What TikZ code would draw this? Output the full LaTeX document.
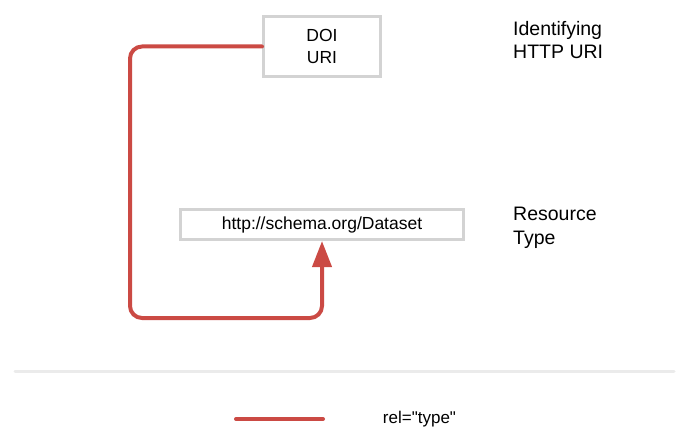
\documentclass[tikz,border=0pt]{standalone}
\usepackage{fontspec}
\setmainfont{Liberation Sans}
\newfontfamily\straightsans{Liberation Sans}
\usetikzlibrary{arrows.meta}

\definecolor{reltype}{RGB}{203,74,68}
\definecolor{boxgray}{RGB}{211,211,211}
\definecolor{rulegray}{RGB}{235,235,235}

\begin{document}
\begin{tikzpicture}[x=1pt,y=-1pt,
    resbox/.style={rectangle,draw=boxgray,line width=3pt,fill=white,align=center,inner sep=0pt,font=\fontsize{17.5}{21.5}\selectfont},
    sidelabel/.style={anchor=north west,align=left,inner sep=0pt,font=\fontsize{19.5}{23.5}\selectfont},
    typelink/.style={draw=reltype,line width=4pt,rounded corners=12pt,line cap=round}]
    \useasboundingbox (0,0) rectangle (688,441);

    \node[resbox,minimum width=117pt,minimum height=60pt] (doi) at (322,46.5) {DOI\\URI};
    \node[resbox,minimum width=283pt,minimum height=30pt] (type) at (322,224.5) {http://schema.org/Dataset};

    \node[sidelabel] (doilabel) at (513,21) {Identifying\\HTTP URI};
    \node[sidelabel] (typelabel) at (513,207) {Resource\\Type};

    \coordinate (bend) at (130,318);
    \draw[typelink,-{Triangle[length=26pt,width=19pt]}] (doi.west) -| (bend) -| (type.south);

    % separator and legend
    \coordinate (ruleleft) at (15,371);
    \coordinate (ruleright) at (674,371);
    \draw[rulegray,line width=3pt,line cap=round] (ruleleft) -- (ruleright);

    \coordinate (legleft) at (236,419);
    \coordinate (legright) at (323,419);
    \draw[typelink] (legleft) -- (legright);
    \node[font=\straightsans\fontsize{17}{20}\selectfont,inner sep=0pt] (legtext) at (419.5,419) {rel="type"};
\end{tikzpicture}
\end{document}
